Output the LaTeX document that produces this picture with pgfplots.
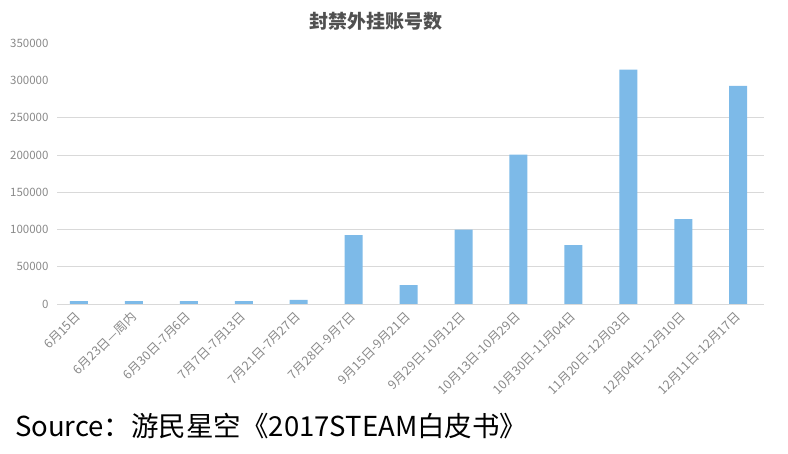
\documentclass[border=0pt]{standalone}
\usepackage{pgfplots}
\pgfplotsset{compat=1.18}
\usepackage{fontspec}
\setmainfont{Noto Sans CJK SC}
\definecolor{barblue}{RGB}{125,186,232}
\definecolor{gridgray}{RGB}{217,217,217}
\definecolor{ticktext}{RGB}{137,137,137}
\definecolor{titletext}{RGB}{80,80,80}
\begin{document}
\begin{tikzpicture}[x=1pt,y=1pt]
\useasboundingbox (0,0) rectangle (788,454);
\begin{axis}[
  at={(57pt,150pt)}, anchor=south west,
  width=707pt, height=260.7pt, scale only axis,
  xmin=-0.4, xmax=12.47,
  ymin=0, ymax=350000,
  axis line style={draw=none},
  tick style={draw=none},
  ybar, bar width=18pt,
  xtick={0,...,12},
  xticklabels={6月15日, 6月23日—周内, 6月30日-7月6日, 7月7日-7月13日,
    7月21日-7月27日, 7月28日-9月7日, 9月15日-9月21日, 9月29日-10月12日,
    10月13日-10月29日, 10月30日-11月04日, 11月20日-12月03日,
    12月04日-12月10日, 12月11日-12月17日},
  xticklabel style={rotate=45, anchor=east, xshift=-1pt, yshift=-4pt,
    font=\fontsize{12.5}{14}\selectfont, text=ticktext},
  ytick={0,50000,...,250000},
  extra y ticks={300000,350000},
  extra y tick style={grid=none},
  scaled y ticks=false,
  /pgf/number format/.cd, fixed, 1000 sep={}, assume math mode=true,
  /pgfplots/.cd,
  yticklabel style={font=\fontsize{11.5}{13}\selectfont, text=ticktext, xshift=-5pt},
  ymajorgrids,
  grid style={draw=gridgray, line width=0.9pt},
]
\addplot[fill=barblue, draw=none] coordinates {
  (0,4000) (1,4000) (2,4000) (3,4000) (4,5500) (5,92500) (6,25500)
  (7,100000) (8,200500) (9,79000) (10,314500) (11,114000) (12,293000)
};
\end{axis}
\node[font=\bfseries\fontsize{19}{22}\selectfont, text=titletext] at (376,433) {封禁外挂账号数};
\node[anchor=base west, inner sep=0, font=\fontsize{27.5}{30}\selectfont] at (15,17) {Source：游民星空《2017STEAM白皮书》};
\end{tikzpicture}
\end{document}
